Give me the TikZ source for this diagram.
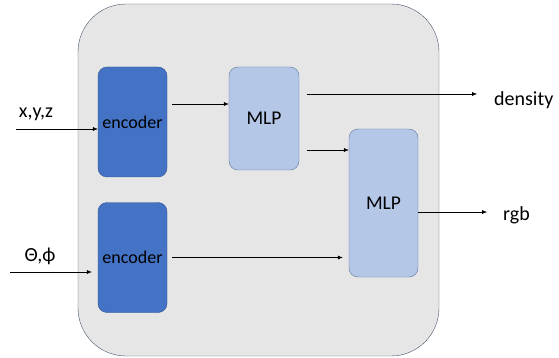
\documentclass[tikz,border=0pt]{standalone}
\usepackage{fontspec}
\setmainfont{Carlito}
\usetikzlibrary{arrows.meta}

\definecolor{encblue}{HTML}{4472C4}
\definecolor{mlpblue}{HTML}{B4C7E7}
\definecolor{edgeblue}{HTML}{2F528F}
\definecolor{panel}{HTML}{E7E6E6}
\definecolor{panelline}{HTML}{44546A}

\begin{document}
\begin{tikzpicture}[
    x=1pt, y=-1pt,
    encoder/.style={draw=edgeblue, fill=encblue, rounded corners=9pt,
        minimum width=69pt, minimum height=110pt, inner sep=0pt,
        font=\fontsize{18}{18}\selectfont},
    mlp/.style={draw=edgeblue!80, fill=mlpblue, rounded corners=9pt,
        minimum width=70pt, inner sep=0pt, font=\fontsize{19.5}{19.5}\selectfont},
    label/.style={inner sep=0pt, font=\fontsize{20}{20}\selectfont},
    link/.style={thin, -{Latex[length=5pt,width=4pt]}}
]
    \useasboundingbox (0,0) rectangle (559,358);
    \draw[panelline, fill=panel, rounded corners=48pt] (78,4) rectangle (439,356);

    \node[encoder] (enc1) at (132.5,122) {encoder};
    \node[encoder] (enc2) at (132.5,257.5) {encoder};
    \node[mlp, minimum height=103pt] (mlp1) at (264,118.5) {MLP};
    \node[mlp, minimum width=69pt, minimum height=148pt] (mlp2) at (383.5,203) {MLP};

    \node[label] (xyz) at (36,114) {x,y,z};
    \node[label] (ang) at (40,256) {Θ,ϕ};
    \node[label, anchor=west] (dens) at (494,100) {density};
    \node[label, anchor=west] (rgb) at (503,215) {rgb};

    \coordinate (xin) at (16,129);
    \coordinate (ain) at (10,272);
    \coordinate (m1a) at ([xshift=8pt,yshift=24.5pt]mlp1.east);
    \coordinate (m1b) at ([xshift=8pt,yshift=-31.5pt]mlp1.east);
    \coordinate (m2out) at ([yshift=-9pt]mlp2.east);

    \draw[link] (xin) -- (xin -| enc1.west);
    \draw[link, shorten >=6pt] (ain) -- (ain -| enc2.west);
    \draw[link] ([xshift=5pt,yshift=18pt]enc1.east) -- ([yshift=14.5pt]mlp1.west);
    \draw[link, shorten >=17pt] (m1a) -- (m1a -| dens.west);
    \draw[link] (m1b) -- (m1b -| mlp2.west);
    \draw[link, shorten >=6pt] ([xshift=5pt]enc2.east) -- (enc2.east -| mlp2.west);
    \draw[link, shorten >=16pt] (m2out) -- (m2out -| rgb.west);
\end{tikzpicture}
\end{document}
